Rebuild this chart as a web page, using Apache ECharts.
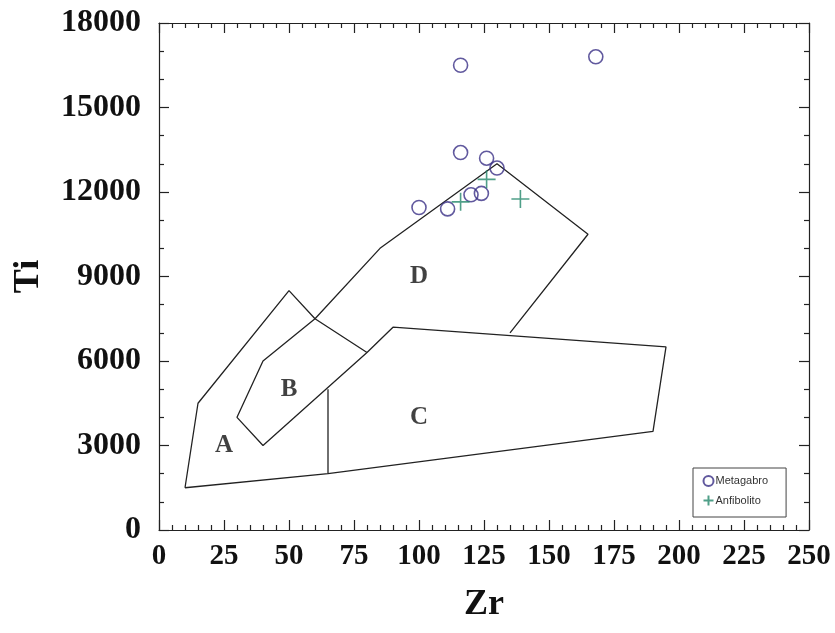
<!DOCTYPE html>
<html>
<head>
<meta charset="utf-8">
<script src="https://cdn.jsdelivr.net/npm/echarts@6/dist/echarts.min.js"></script>
<style>
  html, body { margin: 0; padding: 0; background: #fff; }
  #chart { width: 835px; height: 633px; }
</style>
</head>
<body>
<div id="chart"></div>
<script>
// Ti vs Zr discrimination diagram (fields A-D) with sample points

const xTicks = [0, 25, 50, 75, 100, 125, 150, 175, 200, 225, 250];
const yTicks = [0, 3000, 6000, 9000, 12000, 15000, 18000];

// Metagabro samples [Zr, Ti]
const metagabro = [
  [116, 16500], [168, 16800], [116, 13400], [126, 13200], [130, 12850],
  [100, 11450], [111, 11400], [120, 11900], [124, 11950]
];

// Anfibolito samples [Zr, Ti]
const anfibolito = [
  [126, 12450], [116, 11650], [139, 11750]
];

// Field boundaries
const boundaryA = [[10, 1500], [15, 4500], [50, 8500], [60, 7500], [80, 6300]];
const boundaryMain = [
  [135, 7000], [165, 10500], [130, 13000], [85, 10000], [60, 7500],
  [40, 6000], [30, 4000], [40, 3000], [80, 6300], [90, 7200],
  [195, 6500], [190, 3500], [65, 2000], [10, 1500]
];
const boundaryDivider = [[65, 2000], [65, 5000]];

// Field labels
const fieldNames = ['A', 'B', 'C', 'D'];
const fieldPositions = [[25, 3000], [50, 5000], [100, 4000], [100, 9000]];

const chart = echarts.init(document.getElementById('chart'));

const axisFont = { fontFamily: 'Liberation Serif', fontWeight: 'bold', color: '#111' };
const lineBlack = { color: '#222', width: 1.2 };

function boundarySeries(data) {
  return {
    type: 'line',
    data: data,
    symbol: 'none',
    silent: true,
    lineStyle: { color: '#222', width: 1.3 },
    z: 2
  };
}

function frameAxis(extra) {
  return Object.assign({
    type: 'value',
    axisLine: { show: true, onZero: false, lineStyle: lineBlack },
    axisTick: { show: true, inside: true, length: 10, lineStyle: lineBlack },
    splitLine: { show: false }
  }, extra);
}

chart.setOption({
  animation: false,
  backgroundColor: '#fff',
  grid: { left: 159, top: 23, right: 26, bottom: 103 },
  legend: {
    orient: 'vertical',
    left: 693,
    top: 468,
    data: [
      { name: 'Metagabro', icon: 'circle' },
      { name: 'Anfibolito', icon: 'path://M0,-10V10M-10,0H10' }
    ],
    itemWidth: 10,
    itemHeight: 10,
    itemGap: 6,
    padding: [7, 18, 9, 8],
    borderColor: '#444',
    borderWidth: 1,
    backgroundColor: '#fff',
    textStyle: { fontFamily: 'Liberation Sans', fontSize: 11, color: '#333', padding: [0, 0, 0, -3] }
  },
  xAxis: [
    frameAxis({
      min: 0, max: 250, interval: 25, position: 'bottom',
      name: 'Zr', nameLocation: 'middle', nameGap: 57,
      nameTextStyle: Object.assign({ fontSize: 36 }, axisFont),
      minorTick: { show: true, splitNumber: 5, length: 5, lineStyle: lineBlack },
      axisLabel: Object.assign({ fontSize: 29, margin: 12,
        formatter: v => xTicks.includes(v) ? String(v) : '' }, axisFont)
    }),
    frameAxis({
      min: 0, max: 250, interval: 25, position: 'top',
      minorTick: { show: true, splitNumber: 5, length: 5, lineStyle: lineBlack },
      axisLabel: { show: false }
    })
  ],
  yAxis: [
    frameAxis({
      min: 0, max: 18000, interval: 3000, position: 'left',
      name: 'Ti', nameLocation: 'middle', nameGap: 112, nameRotate: 90,
      nameTextStyle: Object.assign({ fontSize: 36 }, axisFont),
      minorTick: { show: true, splitNumber: 3, length: 5, lineStyle: lineBlack },
      axisLabel: Object.assign({ fontSize: 32, margin: 18,
        formatter: v => yTicks.includes(v) ? String(v) : '' }, axisFont)
    }),
    frameAxis({
      min: 0, max: 18000, interval: 3000, position: 'right',
      minorTick: { show: true, splitNumber: 3, length: 5, lineStyle: lineBlack },
      axisLabel: { show: false }
    })
  ],
  series: [
    boundarySeries(boundaryA),
    boundarySeries(boundaryMain),
    boundarySeries(boundaryDivider),
    {
      type: 'scatter',
      silent: true,
      data: fieldPositions.map((p, i) => ({ value: p, name: fieldNames[i] })),
      symbolSize: 0,
      label: {
        show: true, position: 'inside', formatter: '{b}',
        fontFamily: 'Liberation Serif', fontWeight: 'bold', fontSize: 25, color: '#111'
      },
      z: 3
    },
    {
      name: 'Metagabro',
      type: 'scatter',
      data: metagabro,
      symbol: 'circle',
      symbolSize: 14,
      itemStyle: { color: 'rgba(255,255,255,0)', borderColor: '#3a2f86', borderWidth: 1.6 },
      z: 5
    },
    {
      name: 'Anfibolito',
      type: 'scatter',
      data: anfibolito,
      symbol: 'path://M0,-10V10M-10,0H10',
      symbolSize: 18,
      itemStyle: { color: 'none', borderColor: '#23876a', borderWidth: 1.6 },
      z: 5
    }
  ]
});
</script>
</body>
</html>
